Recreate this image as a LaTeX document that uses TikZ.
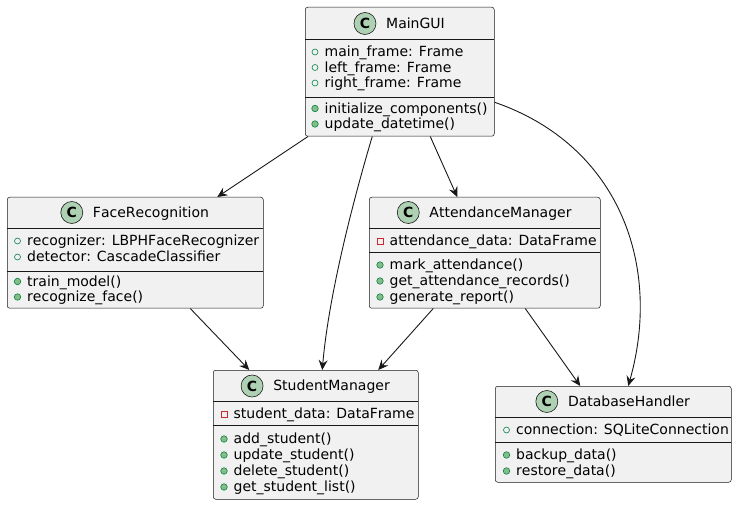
\documentclass[tikz,border=0pt]{standalone}
\usepackage{fontspec}
\setmainfont{DejaVu Sans}[Kerning=Off]
\usetikzlibrary{arrows.meta}
\definecolor{boxfill}{HTML}{F1F1F1}
\definecolor{boxline}{HTML}{181818}
\definecolor{cfill}{HTML}{ADD1B2}
\definecolor{pubgreen}{HTML}{038048}
\definecolor{methfill}{HTML}{84BE84}
\definecolor{privred}{HTML}{C82930}
\tikzset{
  classbox/.style={rectangle, draw=boxline, fill=boxfill, line width=0.5pt, rounded corners=2.5pt, inner sep=0pt, anchor=north west},
  sepline/.style={draw=boxline, line width=0.5pt},
  txt/.style={anchor=base west, inner sep=0pt, font=\fontsize{14}{16}\selectfont, text=black},
  ttl/.style={anchor=base, inner sep=0pt, font=\fontsize{14}{16}\selectfont, text=black},
  cicon/.style={circle, draw=boxline, fill=cfill, minimum size=22pt, inner sep=0pt, line width=0.6pt, font=\fontsize{14}{14}\selectfont\bfseries, text=black},
  pubicon/.style={circle, draw=pubgreen, fill=none, minimum size=6pt, inner sep=0pt, line width=0.6pt},
  methicon/.style={circle, draw=pubgreen, fill=methfill, minimum size=6.5pt, inner sep=0pt, line width=0.6pt},
  privicon/.style={rectangle, draw=privred, fill=none, minimum size=6pt, inner sep=0pt, line width=0.6pt},
  assoc/.style={draw=boxline, line width=0.9pt, -{Stealth[length=10pt,width=9pt,inset=3.5pt]}}
}
% #1 name, #2 icon style, #3 box left x, #4 row centre y, #5 text
\newcommand\mbrrow[5]{%
  \node[#2] (#1i) at (#3+11,#4) {};
  \node[txt] (#1) at (#3+20.5,#4+4.8) {#5};}
% #1 name, #2 box centre x, #3 header centre y, #4 title
\newcommand\clshead[4]{%
  \node[ttl] (#1t) at (#2+16,#3+5) {#4};
  \node[cicon, yshift=5pt] (#1c) at ([xshift=-21pt]#1t.base west) {C};}
\begin{document}
\begin{tikzpicture}[x=1pt,y=-1pt]
\useasboundingbox (0,0) rectangle (737,505);

% ---- MainGUI
\node[classbox, minimum width=189pt, minimum height=129pt] (maingui) at (305,7) {};
\draw[sepline] (305,39) -- (494,39);
\draw[sepline] (305,97) -- (494,97);
\clshead{mg}{399.5}{23.5}{MainGUI}
\mbrrow{mga}{pubicon}{304}{52}{main\_frame: Frame}
\mbrrow{mgb}{pubicon}{304}{67.5}{left\_frame: Frame}
\mbrrow{mgc}{pubicon}{304}{83}{right\_frame: Frame}
\mbrrow{mgd}{methicon}{304}{108.5}{initialize\_components()}
\mbrrow{mge}{methicon}{304}{124}{update\_datetime()}

% ---- FaceRecognition
\node[classbox, minimum width=256pt, minimum height=111pt] (face) at (7,197) {};
\draw[sepline] (7,228) -- (263,228);
\draw[sepline] (7,271) -- (263,271);
\clshead{fr}{135}{212.5}{FaceRecognition}
\mbrrow{fra}{pubicon}{6.5}{241}{recognizer: LBPHFaceRecognizer}
\mbrrow{frb}{pubicon}{6.5}{257}{detector: CascadeClassifier}
\mbrrow{frc}{methicon}{6.5}{281.5}{train\_model()}
\mbrrow{frd}{methicon}{6.5}{297}{recognize\_face()}

% ---- AttendanceManager
\node[classbox, minimum width=231pt, minimum height=111pt] (att) at (369,197) {};
\draw[sepline] (369,228) -- (600,228);
\draw[sepline] (369,252) -- (600,252);
\clshead{am}{484.5}{212.5}{AttendanceManager}
\mbrrow{ama}{privicon}{369}{241}{attendance\_data: DataFrame}
\mbrrow{amb}{methicon}{369}{265}{mark\_attendance()}
\mbrrow{amc}{methicon}{369}{281}{get\_attendance\_records()}
\mbrrow{amd}{methicon}{369}{297}{generate\_report()}

% ---- StudentManager
\node[classbox, minimum width=205pt, minimum height=129pt] (student) at (213,370) {};
\draw[sepline] (213,401.5) -- (418,401.5);
\draw[sepline] (213,425.5) -- (418,425.5);
\clshead{sm}{315.5}{386}{StudentManager}
\mbrrow{sma}{privicon}{213}{414}{student\_data: DataFrame}
\mbrrow{smb}{methicon}{213}{439}{add\_student()}
\mbrrow{smc}{methicon}{213}{455}{update\_student()}
\mbrrow{smd}{methicon}{213}{471}{delete\_student()}
\mbrrow{sme}{methicon}{213}{487}{get\_student\_list()}

% ---- DatabaseHandler
\node[classbox, minimum width=236pt, minimum height=96pt] (db) at (495,386) {};
\draw[sepline] (495,417) -- (731,417);
\draw[sepline] (495,442) -- (731,442);
\clshead{dh}{613}{401.5}{DatabaseHandler}
\mbrrow{dha}{pubicon}{495.5}{430}{connection: SQLiteConnection}
\mbrrow{dhb}{methicon}{495.5}{455}{backup\_data()}
\mbrrow{dhc}{methicon}{495.5}{471}{restore\_data()}

% ---- connectors
\draw[assoc] ([xshift=3pt]maingui.south west) -- ([xshift=82pt]face.north);
\draw[assoc] ([xshift=-27.5pt]maingui.south) .. controls +(-22,74) and +(6,-70) .. ([xshift=6.5pt]student.north);
\draw[assoc] ([xshift=30.5pt]maingui.south) -- ([xshift=-27.5pt]att.north);
\draw[assoc] ([yshift=-30.5pt]maingui.east) .. controls +(125,43) and +(34,-120) .. ([xshift=15pt]db.north);
\draw[assoc] ([xshift=55pt]face.south) -- ([xshift=-66.5pt]student.north);
\draw[assoc] ([xshift=-51.5pt]att.south) -- ([xshift=62.5pt]student.north);
\draw[assoc] ([xshift=40.5pt]att.south) -- ([xshift=-33pt]db.north);
\end{tikzpicture}
\end{document}
